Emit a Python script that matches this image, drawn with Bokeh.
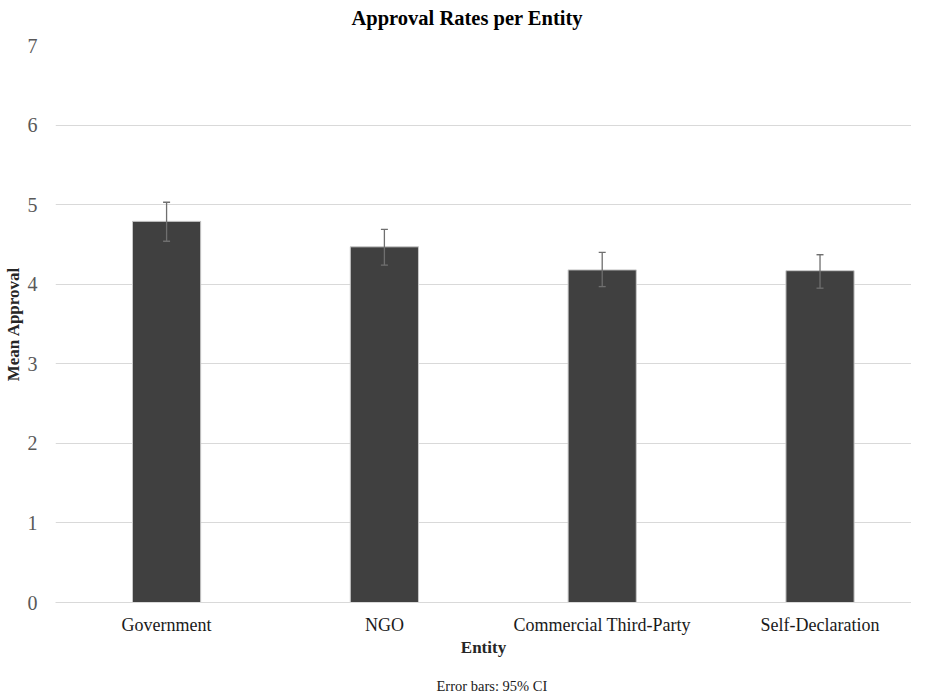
from bokeh.plotting import figure
from bokeh.models import Range1d, FixedTicker, Whisker, ColumnDataSource, TeeHead, Title
from bokeh.embed import file_html
from bokeh.resources import INLINE

categories = ["Government", "NGO", "Commercial Third-Party", "Self-Declaration"]
mean_approval = [4.79, 4.47, 4.18, 4.17]
ci_upper = [5.03, 4.69, 4.40, 4.37]
ci_lower = [4.54, 4.24, 3.97, 3.95]
y_ticks = [0, 1, 2, 3, 4, 5, 6, 7]

xs = list(range(1, len(categories) + 1))
src = ColumnDataSource(dict(x=xs, top=mean_approval, upper=ci_upper, lower=ci_lower))

FONT = "Liberation Serif"

p = figure(width=911, height=694, output_backend="svg", toolbar_location=None,
           x_range=Range1d(0.49, 4.42), y_range=Range1d(0, 7),
           min_border_left=50, min_border_right=0, min_border_top=45, min_border_bottom=91)
p.outline_line_color = None
p.background_fill_color = "white"
p.border_fill_color = "white"

# default title unused
p.title.text = ""
p.title.text_font_size = "0px"
p.title.standoff = 0

# spacer (closest to frame) then the real title
p.add_layout(Title(text=" ", text_font_size="1px", standoff=14), "above")
p.add_layout(Title(text="Approval Rates per Entity", text_font=FONT, text_font_size="20.5px",
                   text_font_style="bold", text_color="#000000", align="left", offset=296,
                   standoff=0), "above")

p.vbar(x="x", top="top", width=0.313, bottom=0, source=src,
       fill_color="#404040", line_color="#c8c8c8", line_width=1)

w = Whisker(base="x", upper="upper", lower="lower", source=src, level="overlay",
            line_color="#6f6f6f", line_width=1.3,
            upper_head=TeeHead(size=7, line_color="#6f6f6f", line_width=1.3),
            lower_head=TeeHead(size=7, line_color="#6f6f6f", line_width=1.3))
p.add_layout(w)

# grid
p.xgrid.grid_line_color = None
p.ygrid.grid_line_color = "#d9d9d9"
p.ygrid.grid_line_width = 1

# y axis
p.yaxis.ticker = FixedTicker(ticks=y_ticks)
p.yaxis.axis_line_color = None
p.yaxis.major_tick_line_color = None
p.yaxis.minor_tick_line_color = None
p.yaxis.major_tick_out = 0
p.yaxis.major_tick_in = 0
p.yaxis.major_label_standoff = 18
p.yaxis.major_label_text_font = FONT
p.yaxis.major_label_text_font_size = "20px"
p.yaxis.major_label_text_color = "#595959"
p.yaxis.axis_label = "Mean Approval"
p.yaxis.axis_label_text_font = FONT
p.yaxis.axis_label_text_font_size = "17px"
p.yaxis.axis_label_text_font_style = "bold"
p.yaxis.axis_label_text_color = "#262626"
p.yaxis.axis_label_standoff = 2

# x axis
p.xaxis.ticker = FixedTicker(ticks=xs)
p.xaxis.major_label_overrides = {x: c for x, c in zip(xs, categories)}
p.xaxis.axis_line_color = "#d9d9d9"
p.xaxis.axis_line_width = 1
p.xaxis.major_tick_line_color = None
p.xaxis.minor_tick_line_color = None
p.xaxis.major_tick_out = 0
p.xaxis.major_tick_in = 0
p.xaxis.major_label_standoff = 12
p.xaxis.major_label_text_font = FONT
p.xaxis.major_label_text_font_size = "18px"
p.xaxis.major_label_text_color = "#1a1a1a"
p.xaxis.axis_label = "Entity"
p.xaxis.axis_label_text_font = FONT
p.xaxis.axis_label_text_font_size = "17px"
p.xaxis.axis_label_text_font_style = "bold"
p.xaxis.axis_label_text_color = "#262626"
p.xaxis.axis_label_standoff = 0

# spacer below the axis, then the footnote
p.add_layout(Title(text=" ", text_font_size="1px", standoff=12), "below")
p.add_layout(Title(text="Error bars: 95% CI", align="left", offset=381, text_font=FONT,
                   text_font_size="14.5px", text_font_style="normal", text_color="#1a1a1a",
                   standoff=2), "below")

open("out.html", "w").write(file_html(p, INLINE))
